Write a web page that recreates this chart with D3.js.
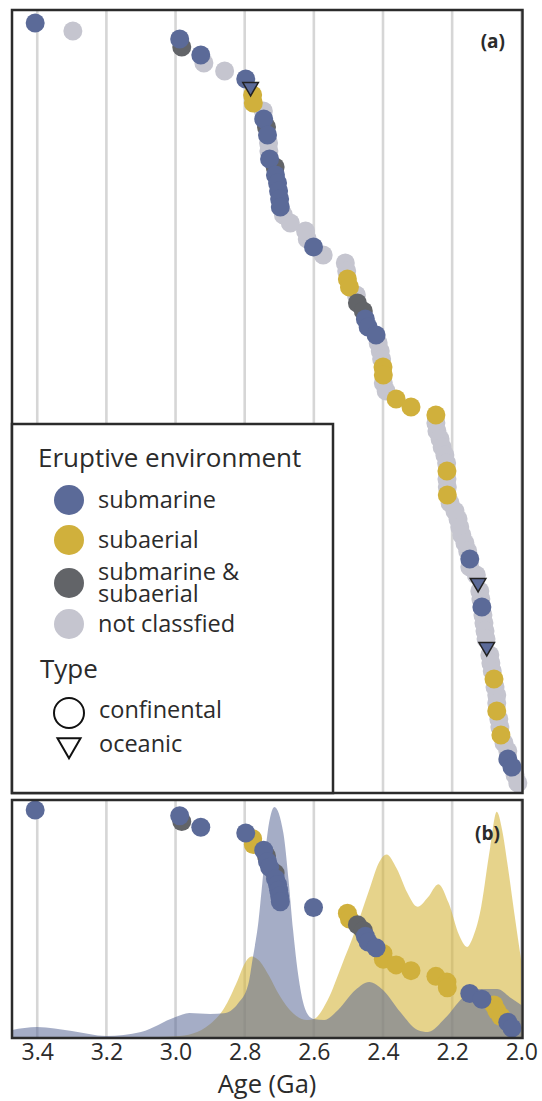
<!DOCTYPE html>
<html><head><meta charset="utf-8">
<script src="https://cdn.jsdelivr.net/npm/d3@7"></script>
<style>body{margin:0;background:#fff} svg{display:block} text{font-family:"Open Sans",sans-serif;fill:#2b2b2b}</style>
</head><body><svg id="c" width="542" height="1101"></svg>
<script>
// ---- data ----
const ages = [3.406,3.297,2.988,2.982,2.927,2.918,2.858,2.797,2.783,2.777,2.775,2.746,2.745,2.737,2.734,2.731,2.730,2.728,2.712,2.711,
  2.705,2.702,2.699,2.697,2.688,2.668,2.624,2.619,2.601,2.573,2.509,2.505,2.503,2.497,2.477,2.474,2.457,2.451,2.443,2.420,
  2.414,2.408,2.404,2.400,2.399,2.399,2.391,2.362,2.319,2.247,2.247,2.244,2.235,2.229,2.221,2.216,2.215,2.215,2.214,2.214,
  2.206,2.192,2.183,2.178,2.172,2.163,2.155,2.149,2.149,2.130,2.125,2.120,2.117,2.114,2.111,2.108,2.105,2.102,2.100,2.091,
  2.088,2.084,2.079,2.076,2.071,2.071,2.071,2.065,2.062,2.059,2.050,2.039,2.039,2.027,2.018,2.010];
const env = ["S","N","S","B","S","N","N","S","S","A","A","N","S","B","S","N","N","S","B","S",
  "S","S","S","S","N","N","N","N","S","N","N","N","A","A","N","B","B","S","S","S",
  "N","N","N","A","A","N","N","A","A","A","N","N","N","N","N","N","A","N","N","A",
  "N","N","N","N","N","N","N","S","N","N","S","N","N","S","N","N","N","N","S","N",
  "N","N","A","N","N","N","A","N","N","A","N","N","S","S","N","N"];
const types = ["C","C","C","C","C","C","C","C","O","C","C","C","C","C","C","C","C","C","C","C",
  "C","C","C","C","C","C","C","C","C","C","C","C","C","C","C","C","C","C","C","C",
  "C","C","C","C","C","C","C","C","C","C","C","C","C","C","C","C","C","C","C","C",
  "C","C","C","C","C","C","C","C","C","C","O","C","C","C","C","C","C","C","O","C",
  "C","C","C","C","C","C","C","C","C","C","C","C","C","C","C","C"];

const tickVals = [3.4,3.2,3.0,2.8,2.6,2.4,2.2,2.0];
const tickLabels = ["3.4","3.2","3.0","2.8","2.6","2.4","2.2","2.0"];

const envKeys = ["S","A","B","N"];
const envLabels = [["submarine"],["subaerial"],["submarine &","subaerial"],["not classfied"]];
const typeKeys = ["C","O"];
const typeLabels = ["confinental","oceanic"];

// density (age, relative height 0-100)
const subDensAge = [3.473,3.40,3.30,3.20,3.10,3.00,2.96,2.90,2.86,2.82,2.79,2.777,2.76,2.749,2.734,2.714,2.688,2.673,2.66,2.645,2.63,2.615,2.60,2.57,2.53,2.48,2.44,2.40,2.35,2.30,2.27,2.22,2.17,2.12,2.07,2.03,2.00];
const subDens    = [3.0, 4.2, 2.5, 0.4, 2.1, 8.4, 10.1,9.7, 10, 14, 22, 33, 49, 65, 86, 97, 86, 66, 45, 26, 14, 9, 7.6, 7.2, 11.4,19.8,23.2,19.8,10.5,3.0,2.1,8.0,16.5,20.3,20.3,16.5,13.5];
const aerDensAge = [3.05,3.00,2.95,2.90,2.86,2.82,2.80,2.78,2.76,2.73,2.70,2.66,2.62,2.60,2.56,2.52,2.48,2.44,2.41,2.39,2.36,2.33,2.30,2.27,2.24,2.21,2.18,2.157,2.14,2.12,2.09,2.071,2.055,2.04,2.02,2.00];
const aerDens    = [0,  0.3, 1.5, 5.5, 12, 24, 31, 34, 32.5,26, 17.7,10, 7.2, 7.6, 15.6,30, 45, 62, 74, 77, 71, 61, 55, 59, 64.5,56.5,43, 38, 42, 52, 80, 95, 87, 73, 52, 32];

// ---- styles ----
const colors = {S:"#5b6a98", A:"#d0b03c", B:"#626468", N:"#c5c5cf"};
const drawOrder = {N:0, A:1, B:2, S:3};

const svg = d3.select("#c");
const x = d3.scaleLinear().domain([3.473, 2.0]).range([12, 521.3]);

const pts = ages.map((a,i)=>({age:a, env:env[i], type:types[i], rank:i}));
const yA = d3.scaleLinear().domain([0, pts.length-1]).range([23, 783]);
const ptsB = pts.filter(d=>d.env!=="N" && d.type==="C").map((d,i)=>Object.assign({}, d, {rankB:i}));
const yB = d3.scaleLinear().domain([0, ptsB.length-1]).range([810, 1028]);
const yD = d3.scaleLinear().domain([0,100]).range([1037, 800]);

const A = {x0:12, x1:522.5, y0:10, y1:793};
const B = {x0:12, x1:522.5, y0:800, y1:1038};

svg.append("defs").append("clipPath").attr("id","clipB").append("rect")
  .attr("x",B.x0).attr("y",B.y0).attr("width",B.x1-B.x0).attr("height",B.y1-B.y0);

function grid(P){
  svg.append("g").selectAll("line").data(tickVals).join("line")
    .attr("x1",d=>x(d)).attr("x2",d=>x(d)).attr("y1",P.y0).attr("y2",P.y1)
    .attr("stroke","#d6d6d6").attr("stroke-width",2.6);
}
grid(A); grid(B);

// densities in (b)
const area = d3.area().x(d=>x(d[0])).y0(yD(0)).y1(d=>yD(d[1])).curve(d3.curveMonotoneX);
const gD = svg.append("g").attr("clip-path","url(#clipB)");
gD.append("path").datum(aerDensAge.map((a,i)=>[a,aerDens[i]])).attr("d",area)
  .attr("fill","rgb(212,180,55)").attr("fill-opacity",0.58);
gD.append("path").datum(subDensAge.map((a,i)=>[a,subDens[i]])).attr("d",area)
  .attr("fill","rgb(91,106,152)").attr("fill-opacity",0.55);

const tri = d3.symbol().type(d3.symbolTriangle).size(105);

function drawPoints(data, yf){
  const circ = data.filter(d=>d.type==="C").sort((a,b)=>drawOrder[a.env]-drawOrder[b.env] || a.rank-b.rank);
  svg.append("g").selectAll("circle").data(circ).join("circle")
    .attr("cx",d=>x(d.age)).attr("cy",yf).attr("r",9.5).attr("fill",d=>colors[d.env]);
  const tr = data.filter(d=>d.type==="O");
  svg.append("g").selectAll("path").data(tr).join("path")
    .attr("d",tri).attr("transform",d=>`translate(${x(d.age)},${yf(d)}) rotate(180)`)
    .attr("fill",d=>colors[d.env]).attr("stroke","#222").attr("stroke-width",1.5);
}
drawPoints(pts, d=>yA(d.rank));
drawPoints(ptsB, d=>yB(d.rankB));

// frames
[A,B].forEach(P=>{
  svg.append("rect").attr("x",P.x0).attr("y",P.y0).attr("width",P.x1-P.x0).attr("height",P.y1-P.y0)
    .attr("fill","none").attr("stroke","#2b2b2b").attr("stroke-width",2.5);
});

// panel labels
svg.append("text").attr("x",505).attr("y",48).attr("text-anchor","end").attr("font-size",19).attr("font-weight","bold").text("(a)");
svg.append("text").attr("x",500).attr("y",840).attr("text-anchor","end").attr("font-size",19).attr("font-weight","bold").text("(b)");

// axis
const ax = d3.axisBottom(x).tickValues(tickVals).tickFormat((d,i)=>tickLabels[i]).tickSize(0).tickPadding(6);
const gA = svg.append("g").attr("transform",`translate(0,${B.y1})`).call(ax);
gA.select(".domain").remove();
gA.selectAll("text").attr("font-size",23).attr("font-family","Open Sans").attr("fill","#2b2b2b");
svg.append("text").attr("x",267).attr("y",1092.5).attr("text-anchor","middle").attr("font-size",25.5).text("Age (Ga)");

// legend
const L = svg.append("g");
L.append("rect").attr("x",12).attr("y",424).attr("width",321).attr("height",369)
  .attr("fill","#fff").attr("stroke","#2b2b2b").attr("stroke-width",2.5);
L.append("text").attr("x",38).attr("y",467).attr("font-size",26).text("Eruptive environment");
const envCy = [500,540,583,624];
const envBase = [508,548,580,632];
envKeys.forEach((k,i)=>{
  L.append("circle").attr("cx",69).attr("cy",envCy[i]).attr("r",15).attr("fill",colors[k]);
  const t = L.append("text").attr("x",98).attr("y",envBase[i]).attr("font-size",23.5);
  envLabels[i].forEach((s,j)=>{
    t.append("tspan").attr("x",98).attr("dy", j===0 ? 0 : 22).text(s);
  });
});
L.append("text").attr("x",40).attr("y",678).attr("font-size",26).text("Type");
L.append("circle").attr("cx",69).attr("cy",713).attr("r",15).attr("fill","#fff").attr("stroke","#111").attr("stroke-width",2);
L.append("path").attr("d",d3.symbol().type(d3.symbolTriangle).size(230)).attr("transform","translate(69,745) rotate(180)")
  .attr("fill","#fff").attr("stroke","#111").attr("stroke-width",2);
typeLabels.forEach((t,i)=>{
  L.append("text").attr("x",99).attr("y",[718,752][i]).attr("font-size",23.5).text(t);
});
</script></body></html>
